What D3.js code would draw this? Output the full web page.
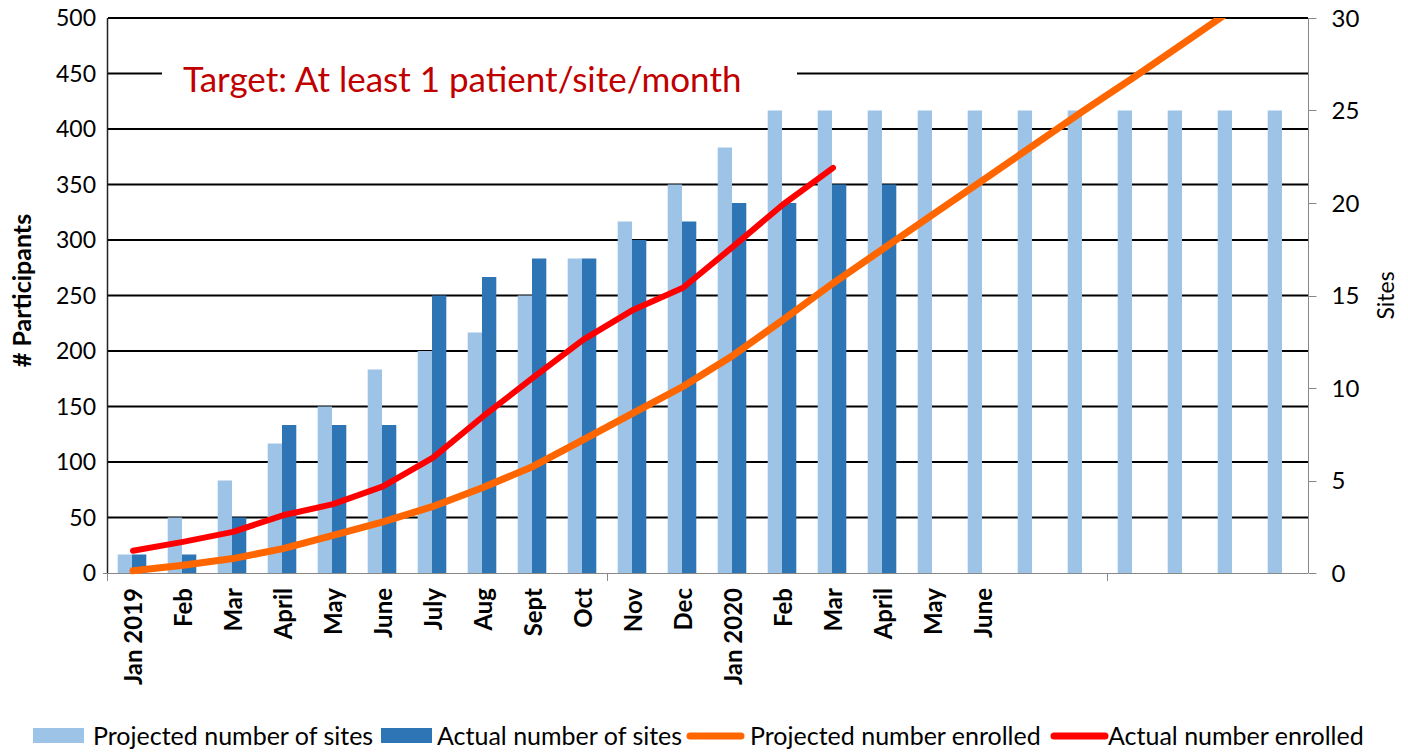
<!DOCTYPE html>
<html>
<head>
<meta charset="utf-8">
<script src="https://cdn.jsdelivr.net/npm/d3@7/dist/d3.min.js"></script>
<style>
  body { margin: 0; background: #fff; }
  svg text { font-family: Lato, 'Open Sans', sans-serif; fill: #000; }
</style>
</head>
<body>
<script>
const width = 1408;
const height = 752;
const plot = { left: 108, right: 1308, top: 18, bottom: 573 };

// data
const monthLabels = ['Jan 2019', 'Feb', 'Mar', 'April', 'May', 'June', 'July', 'Aug', 'Sept', 'Oct', 'Nov', 'Dec',
  'Jan 2020', 'Feb', 'Mar', 'April', 'May', 'June', '', '', '', '', '', ''];
const projectedSites = [1, 3, 5, 7, 9, 11, 12, 13, 15, 17, 19, 21, 23, 25, 25, 25, 25, 25, 25, 25, 25, 25, 25, 25];
const actualSites = [1, 1, 3, 8, 8, 8, 15, 16, 17, 17, 18, 19, 20, 20, 21, 21];
const projectedEnrolled = [2, 7, 13, 22, 34, 46, 60, 77, 96, 120, 144, 168, 196, 228, 261, 292, 323, 354, 385, 416, 446, 477, 508];
const actualEnrolled = [20, 28, 37, 52, 62, 78, 104, 141, 176, 210, 237, 257, 294, 332, 365];
const participantTicks = d3.range(0, 501, 50);
const siteTicks = d3.range(0, 31, 5);
const legendLabels = ['Projected number of sites', 'Actual number of sites', 'Projected number enrolled', 'Actual number enrolled'];
const legendColors = ['#9DC3E6', '#2E75B6', '#FF6600', '#FF0000'];

function main() {
  const svg = d3.select('body').append('svg').attr('width', width).attr('height', height);

  const x = d3.scaleBand().domain(d3.range(monthLabels.length)).range([plot.left, plot.right]);
  const xSub = d3.scaleBand().domain(['projected', 'actual']).range([9.7, 38.3]);
  const yLeft = d3.scaleLinear().domain([0, 500]).range([plot.bottom, plot.top]);
  const yRight = d3.scaleLinear().domain([0, 30]).range([plot.bottom, plot.top]);

  drawGrid(svg, yLeft);
  drawBars(svg, x, xSub, yRight);
  drawAxes(svg, x, yLeft, yRight);
  drawLines(svg, x, yLeft);
  drawTarget(svg);
  drawLegend(svg);
}

function drawGrid(svg, yLeft) {
  svg.append('g')
    .selectAll('line')
    .data(participantTicks.filter(d => d > 0))
    .enter()
    .append('line')
    .attr('x1', plot.left)
    .attr('x2', plot.right)
    .attr('y1', d => yLeft(d))
    .attr('y2', d => yLeft(d))
    .attr('stroke', '#000')
    .attr('stroke-width', 2);
}

function drawBars(svg, x, xSub, yRight) {
  svg.append('g')
    .selectAll('rect')
    .data(projectedSites)
    .enter()
    .append('rect')
    .attr('x', (d, i) => x(i) + xSub('projected'))
    .attr('y', d => yRight(d))
    .attr('width', xSub.bandwidth())
    .attr('height', d => yRight(0) - yRight(d))
    .attr('fill', legendColors[0]);

  svg.append('g')
    .selectAll('rect')
    .data(actualSites)
    .enter()
    .append('rect')
    .attr('x', (d, i) => x(i) + xSub('actual'))
    .attr('y', d => yRight(d))
    .attr('width', xSub.bandwidth())
    .attr('height', d => yRight(0) - yRight(d))
    .attr('fill', legendColors[1]);
}

function drawAxes(svg, x, yLeft, yRight) {
  // left axis
  svg.append('line')
    .attr('x1', plot.left - 0.5).attr('x2', plot.left - 0.5)
    .attr('y1', plot.top).attr('y2', plot.bottom)
    .attr('stroke', '#222').attr('stroke-width', 1.5);
  svg.append('line')
    .attr('x1', plot.left - 5).attr('x2', plot.left)
    .attr('y1', plot.bottom + 0.5).attr('y2', plot.bottom + 0.5)
    .attr('stroke', '#888');

  svg.append('g')
    .selectAll('text')
    .data(participantTicks)
    .enter()
    .append('text')
    .attr('x', 96)
    .attr('y', d => yLeft(d))
    .attr('dy', '0.36em')
    .attr('text-anchor', 'end')
    .attr('font-size', 23)
    .text(d => d);

  svg.append('text')
    .attr('transform', `translate(22,${(plot.top + plot.bottom) / 2 - 5}) rotate(-90)`)
    .attr('dy', '0.35em')
    .attr('text-anchor', 'middle')
    .attr('font-size', 25)
    .attr('font-weight', 'bold')
    .text('# Participants');

  // right axis
  const right = svg.append('g').attr('transform', `translate(${plot.right + 0.5},0)`);
  right.append('line')
    .attr('y1', plot.top).attr('y2', plot.bottom)
    .attr('stroke', '#888');
  right.selectAll('.tick')
    .data(siteTicks)
    .enter()
    .append('line')
    .attr('x2', 8)
    .attr('y1', d => Math.round(yRight(d)) + 0.5)
    .attr('y2', d => Math.round(yRight(d)) + 0.5)
    .attr('stroke', '#888');
  right.selectAll('text')
    .data(siteTicks)
    .enter()
    .append('text')
    .attr('x', 23)
    .attr('y', d => yRight(d))
    .attr('dy', '0.36em')
    .attr('font-size', 24)
    .text(d => d);

  svg.append('text')
    .attr('transform', `translate(1386,${(plot.top + plot.bottom) / 2}) rotate(-90)`)
    .attr('dy', '0.35em')
    .attr('text-anchor', 'middle')
    .attr('font-size', 23)
    .text('Sites');

  // bottom axis
  svg.append('line')
    .attr('x1', plot.left - 1).attr('x2', plot.right)
    .attr('y1', plot.bottom + 0.5).attr('y2', plot.bottom + 0.5)
    .attr('stroke', '#888');
  svg.append('g')
    .selectAll('line')
    .data(d3.range(0, monthLabels.length, 10))
    .enter()
    .append('line')
    .attr('x1', d => x(d) - 0.5)
    .attr('x2', d => x(d) - 0.5)
    .attr('y1', plot.bottom)
    .attr('y2', plot.bottom + 8)
    .attr('stroke', '#888');

  svg.append('g')
    .selectAll('text')
    .data(monthLabels)
    .enter()
    .append('text')
    .attr('transform', (d, i) => `translate(${x(i) + x.bandwidth() / 2},588) rotate(-90)`)
    .attr('dy', '0.36em')
    .attr('text-anchor', 'end')
    .attr('font-size', 24)
    .attr('font-weight', 'bold')
    .text(d => d);
}

function drawLines(svg, x, yLeft) {
  svg.append('clipPath')
    .attr('id', 'plot-clip')
    .append('rect')
    .attr('x', plot.left)
    .attr('y', plot.top)
    .attr('width', plot.right - plot.left)
    .attr('height', plot.bottom - plot.top + 10);

  const line = d3.line()
    .x((d, i) => x(i) + x.bandwidth() / 2)
    .y(d => yLeft(d));

  svg.append('path')
    .datum(projectedEnrolled)
    .attr('clip-path', 'url(#plot-clip)')
    .attr('d', line)
    .attr('fill', 'none')
    .attr('stroke', legendColors[2])
    .attr('stroke-width', 7)
    .attr('stroke-linecap', 'round')
    .attr('stroke-linejoin', 'round');

  svg.append('path')
    .datum(actualEnrolled)
    .attr('d', line)
    .attr('fill', 'none')
    .attr('stroke', legendColors[3])
    .attr('stroke-width', 6)
    .attr('stroke-linecap', 'round')
    .attr('stroke-linejoin', 'round');
}

function drawTarget(svg) {
  svg.append('rect')
    .attr('x', 162)
    .attr('y', 52)
    .attr('width', 635)
    .attr('height', 46)
    .attr('fill', '#fff');
  svg.append('text')
    .attr('x', 183)
    .attr('y', 92)
    .attr('font-size', 35)
    .style('fill', '#C00000')
    .text('Target: At least 1 patient/site/month');
}

function drawLegend(svg) {
  // swatch start and text start for each legend entry
  const layout = [
    { x: 33, text: 60, type: 'rect' },
    { x: 381, text: 56, type: 'rect' },
    { x: 686, text: 64, type: 'line' },
    { x: 1050, text: 58, type: 'line' }
  ];

  const items = svg.append('g')
    .selectAll('g')
    .data(legendLabels)
    .enter()
    .append('g')
    .attr('transform', (d, i) => `translate(${layout[i].x},736)`);

  items.filter((d, i) => layout[i].type === 'rect')
    .append('rect')
    .attr('y', -8)
    .attr('width', 51)
    .attr('height', 15)
    .attr('fill', (d, i) => legendColors[legendLabels.indexOf(d)]);

  items.filter((d, i) => layout[i].type === 'line')
    .append('line')
    .attr('x1', 4)
    .attr('x2', 55)
    .attr('stroke', d => legendColors[legendLabels.indexOf(d)])
    .attr('stroke-width', 7)
    .attr('stroke-linecap', 'round');

  items.append('text')
    .attr('x', d => layout[legendLabels.indexOf(d)].text)
    .attr('dy', '0.36em')
    .attr('font-size', 25)
    .text(d => d);
}

main();
</script>
</body>
</html>
